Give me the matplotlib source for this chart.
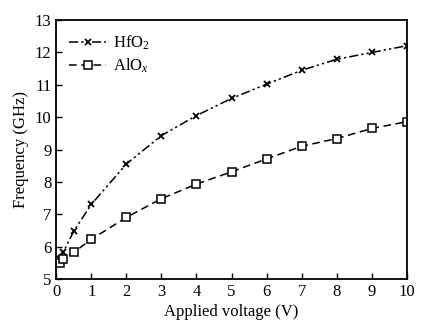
import matplotlib
matplotlib.use("Agg")
import matplotlib.pyplot as plt

plt.rcParams['font.family'] = ['Liberation Serif', 'DejaVu Serif']
plt.rcParams['mathtext.fontset'] = 'custom'
plt.rcParams['mathtext.rm'] = 'Liberation Serif'
plt.rcParams['mathtext.it'] = 'Liberation Serif:italic'

# напряжение (В) и частота (ГГц)
voltage = [0.1, 0.2, 0.5, 1, 2, 3, 4, 5, 6, 7, 8, 9, 10]
hfo2 = [5.6, 5.82, 6.47, 7.3, 8.55, 9.43, 10.05, 10.58, 11.02, 11.45, 11.79, 12.0, 12.21]
alox = [5.5, 5.6, 5.82, 6.22, 6.9, 7.48, 7.93, 8.31, 8.71, 9.1, 9.34, 9.65, 9.86]

fig = plt.figure(figsize=(4.32, 3.25), dpi=100)
ax = fig.add_axes([0.13, 0.142, 0.812, 0.796])

ax.plot(voltage, hfo2, color='black', linestyle=(0, (6, 2, 1.5, 2, 1.5, 2)), linewidth=1.1,
        marker='x', markersize=4.5, markeredgewidth=1.3, label='HfO$_2$')
ax.plot(voltage, alox, color='black', linestyle=(0, (5, 3)), linewidth=1.1,
        marker='s', markersize=5.2, markerfacecolor='white', markeredgewidth=1.1,
        label='AlO$_\\mathit{x}$')

ax.set_xlim(0, 10)
ax.set_ylim(5, 13)
ax.set_xticks(range(0, 11))
ax.set_yticks(range(5, 14))
ax.tick_params(direction='in', length=4, width=1, labelsize=12, top=False, right=False)
for s in ax.spines.values():
    s.set_linewidth(1.3)

ax.set_xlabel('Applied voltage (V)', fontsize=12, labelpad=3)
ax.set_ylabel('Frequency (GHz)', fontsize=12, labelpad=4)

ax.legend(loc='upper left', frameon=False, fontsize=12, handlelength=2.2,
          handletextpad=0.4, borderaxespad=0.4, labelspacing=0.3)

fig.savefig('out.png', dpi=100)
